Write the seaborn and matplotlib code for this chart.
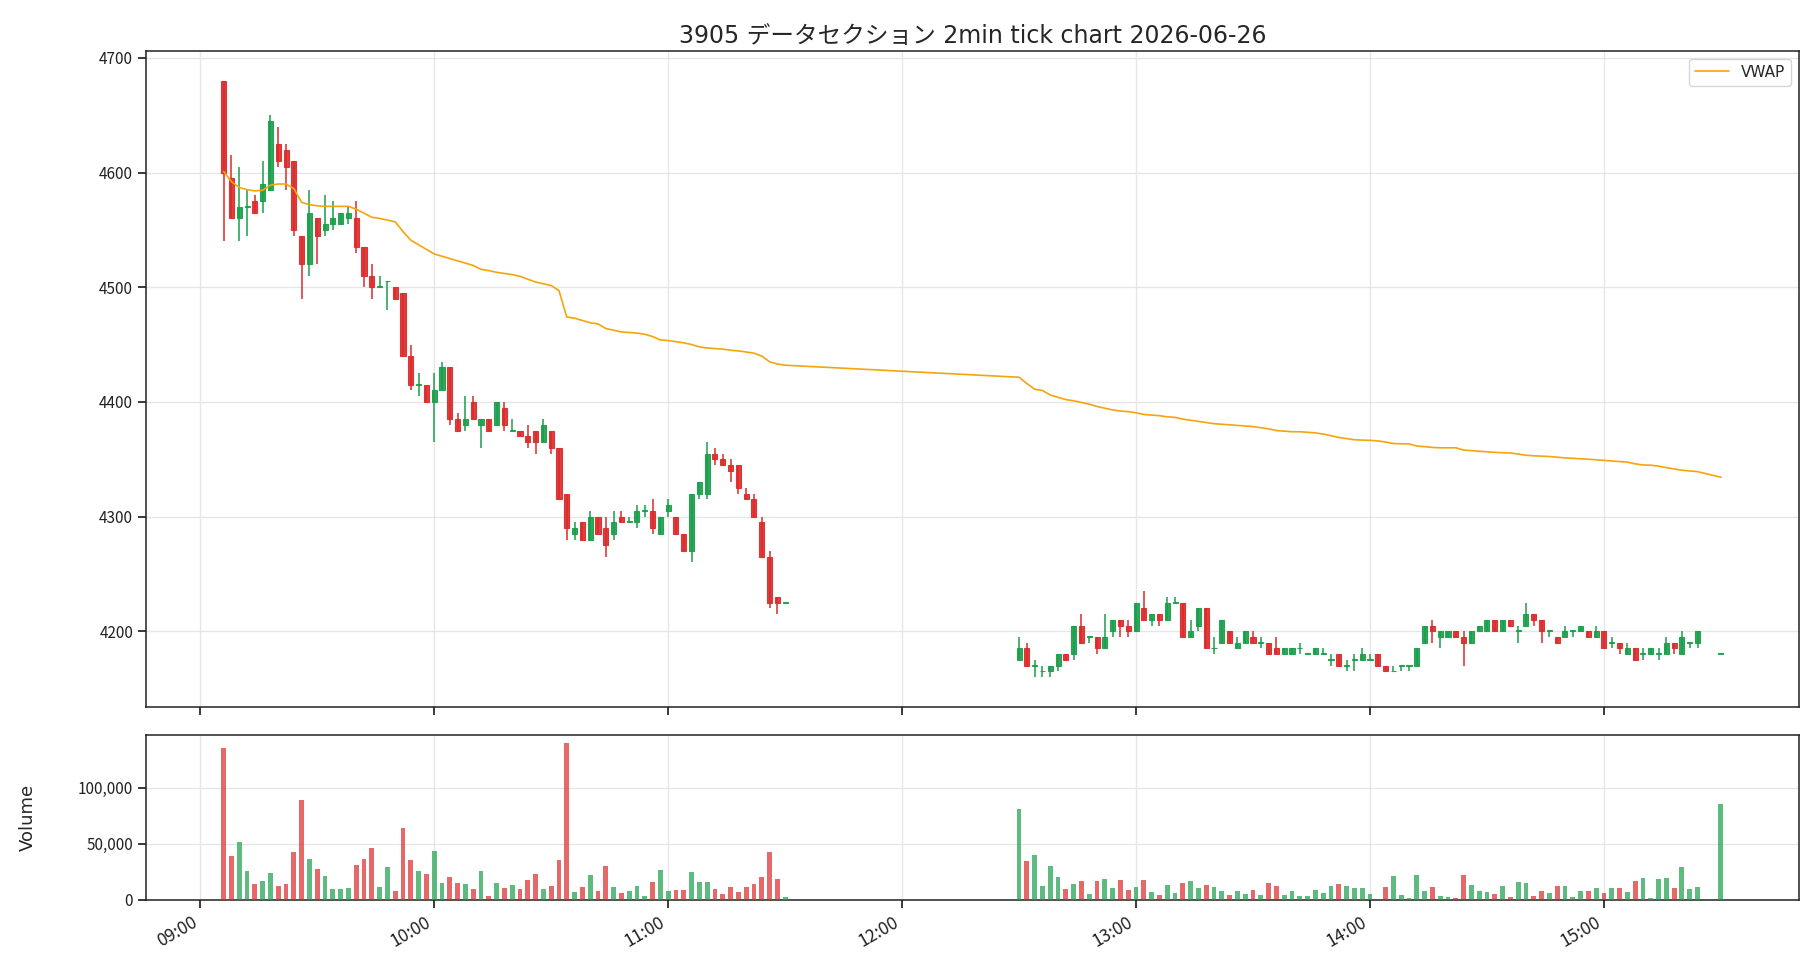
import numpy as np
import pandas as pd
import matplotlib
matplotlib.use("Agg")
import matplotlib.pyplot as plt
import matplotlib.dates as mdates
from matplotlib.ticker import FuncFormatter
import seaborn as sns

# ---------------- data ----------------
title = "3905 データセクション 2min tick chart 2026-06-26"

morning_start, morning_end = "2026-06-26 09:06", "2026-06-26 11:30"
afternoon_start, afternoon_end = "2026-06-26 12:30", "2026-06-26 15:24"
closing_time = "2026-06-26 15:30"

open_am = [4680, 4595, 4560, 4570, 4575, 4575, 4585, 4625, 4620, 4610, 4545, 4520, 4560, 4550, 4555, 4555, 4560, 4560,
           4535, 4510, 4500, 4505, 4500, 4495, 4440, 4415, 4415, 4400, 4410, 4430, 4385, 4380, 4400, 4380, 4385, 4380,
           4395, 4375, 4375, 4370, 4375, 4365, 4375, 4360, 4320, 4285, 4295, 4280, 4300, 4290, 4285, 4300, 4295, 4295,
           4305, 4305, 4285, 4305, 4300, 4285, 4270, 4320, 4320, 4355, 4350, 4345, 4345, 4320, 4315, 4295, 4265, 4230,
           4225]
high_am = [4680, 4615, 4605, 4585, 4580, 4610, 4650, 4640, 4625, 4610, 4545, 4585, 4560, 4580, 4575, 4565, 4570, 4575,
           4535, 4520, 4510, 4505, 4500, 4495, 4450, 4425, 4415, 4425, 4435, 4430, 4390, 4405, 4405, 4385, 4385, 4400,
           4400, 4385, 4375, 4380, 4375, 4385, 4375, 4360, 4320, 4295, 4295, 4305, 4300, 4300, 4305, 4305, 4300, 4310,
           4310, 4315, 4300, 4315, 4300, 4285, 4320, 4330, 4365, 4360, 4355, 4350, 4345, 4325, 4320, 4300, 4270, 4230,
           4225]
low_am = [4540, 4560, 4540, 4545, 4565, 4565, 4585, 4605, 4585, 4545, 4490, 4510, 4520, 4545, 4550, 4555, 4555, 4530,
          4500, 4490, 4500, 4480, 4490, 4440, 4410, 4405, 4400, 4365, 4410, 4380, 4375, 4375, 4385, 4360, 4375, 4380,
          4375, 4375, 4370, 4360, 4355, 4365, 4355, 4315, 4280, 4280, 4280, 4280, 4285, 4265, 4280, 4295, 4295, 4290,
          4300, 4285, 4285, 4300, 4285, 4270, 4260, 4315, 4315, 4345, 4345, 4330, 4320, 4315, 4300, 4265, 4220, 4215,
          4225]
close_am = [4600, 4560, 4570, 4570, 4565, 4590, 4645, 4610, 4605, 4550, 4520, 4565, 4545, 4555, 4560, 4565, 4565, 4535,
            4510, 4500, 4500, 4505, 4490, 4440, 4415, 4415, 4400, 4410, 4430, 4385, 4375, 4385, 4385, 4385, 4375, 4400,
            4380, 4375, 4370, 4365, 4365, 4380, 4360, 4315, 4290, 4290, 4280, 4300, 4285, 4275, 4295, 4295, 4295, 4305,
            4305, 4290, 4300, 4310, 4285, 4270, 4320, 4330, 4355, 4350, 4345, 4340, 4325, 4315, 4300, 4265, 4225, 4225,
            4225]
volume_am = [136000, 39000, 51500, 25400, 13800, 16500, 23700, 12000, 13800, 42500, 89200, 36200, 27200, 21000, 9300,
             9300, 10200, 30800, 36200, 46100, 11100, 29000, 7500, 64100, 35300, 25400, 22800, 43400, 14700, 20100,
             14700, 13800, 9300, 25400, 3000, 14700, 10200, 12900, 9300, 17400, 22800, 9300, 12000, 35300, 140400,
             6600, 11100, 21900, 7500, 29900, 11100, 5700, 7500, 12000, 3000, 15600, 26300, 7500, 8400, 8400, 24600,
             15600, 15600, 9300, 4800, 11100, 6600, 11100, 13800, 20100, 42500, 18300, 2100]
vwap_am = [4601, 4592, 4587, 4585, 4584, 4584.5, 4589, 4590, 4590, 4586, 4574, 4572, 4571, 4570.5, 4570.5, 4570.5,
           4570.5, 4568, 4564.5, 4561, 4560, 4558.5, 4557, 4548.5, 4541, 4537, 4533, 4529, 4527, 4525, 4523, 4521,
           4519, 4515.5, 4514.5, 4513, 4512, 4511, 4509.5, 4507, 4504.5, 4503, 4501.5, 4497, 4474, 4473, 4471, 4469,
           4468, 4464, 4462.5, 4461, 4460.5, 4460, 4459, 4457, 4454, 4453.5, 4452.5, 4451.5, 4450, 4448, 4447, 4446.5,
           4446, 4445, 4444.5, 4443.5, 4442.5, 4440, 4435, 4433, 4432]

open_pm = [4175, 4185, 4170, 4165, 4165, 4170, 4180, 4180, 4205, 4195, 4195, 4185, 4200, 4210, 4205, 4200, 4220, 4210,
           4215, 4210, 4225, 4225, 4195, 4205, 4220, 4185, 4190, 4200, 4185, 4190, 4195, 4190, 4190, 4185, 4180, 4180,
           4185, 4180, 4180, 4180, 4175, 4180, 4170, 4175, 4175, 4175, 4180, 4170, 4165, 4170, 4170, 4170, 4190, 4205,
           4195, 4195, 4200, 4195, 4190, 4200, 4200, 4210, 4200, 4210, 4200, 4205, 4215, 4210, 4200, 4195, 4195, 4200,
           4200, 4200, 4195, 4200, 4190, 4190, 4180, 4185, 4180, 4180, 4180, 4180, 4190, 4180, 4190, 4190, 4180]
high_pm = [4195, 4190, 4175, 4170, 4170, 4180, 4180, 4205, 4215, 4195, 4195, 4215, 4210, 4210, 4210, 4225, 4235, 4215,
           4215, 4230, 4230, 4225, 4210, 4220, 4220, 4195, 4210, 4200, 4195, 4200, 4200, 4195, 4190, 4195, 4185, 4185,
           4190, 4180, 4185, 4185, 4180, 4180, 4175, 4180, 4185, 4180, 4180, 4170, 4170, 4170, 4170, 4185, 4205, 4210,
           4200, 4200, 4200, 4200, 4200, 4205, 4210, 4210, 4210, 4210, 4205, 4225, 4215, 4210, 4200, 4195, 4205, 4200,
           4205, 4200, 4205, 4200, 4195, 4190, 4190, 4185, 4185, 4185, 4185, 4195, 4190, 4200, 4190, 4200, 4180]
low_pm = [4175, 4170, 4160, 4160, 4160, 4165, 4175, 4175, 4190, 4190, 4180, 4185, 4195, 4195, 4195, 4200, 4210, 4205,
          4205, 4210, 4225, 4195, 4195, 4200, 4185, 4180, 4190, 4190, 4185, 4190, 4190, 4185, 4180, 4180, 4180, 4180,
          4180, 4180, 4180, 4180, 4170, 4170, 4165, 4165, 4175, 4175, 4170, 4165, 4165, 4165, 4165, 4170, 4190, 4190,
          4185, 4195, 4195, 4170, 4190, 4200, 4200, 4200, 4200, 4205, 4190, 4205, 4205, 4190, 4195, 4190, 4195, 4195,
          4200, 4195, 4195, 4185, 4185, 4180, 4180, 4175, 4175, 4180, 4175, 4180, 4180, 4180, 4185, 4185, 4180]
close_pm = [4185, 4170, 4170, 4165, 4170, 4180, 4175, 4205, 4190, 4195, 4185, 4195, 4210, 4205, 4200, 4225, 4210, 4215,
            4210, 4225, 4225, 4195, 4200, 4220, 4185, 4185, 4210, 4190, 4190, 4200, 4190, 4190, 4180, 4180, 4185, 4185,
            4185, 4180, 4185, 4180, 4175, 4170, 4170, 4175, 4180, 4175, 4170, 4165, 4165, 4170, 4170, 4185, 4205, 4200,
            4200, 4200, 4195, 4190, 4200, 4205, 4210, 4200, 4210, 4205, 4200, 4215, 4210, 4200, 4200, 4190, 4200, 4200,
            4205, 4195, 4200, 4185, 4190, 4185, 4185, 4175, 4180, 4185, 4180, 4190, 4185, 4195, 4190, 4200, 4180]
volume_pm = [81100, 34400, 39800, 12000, 29900, 20100, 9300, 13800, 16500, 4800, 16500, 18300, 10200, 17400, 8400,
             11100, 17400, 6600, 3900, 12900, 5700, 14700, 16500, 10200, 12900, 11100, 7500, 3900, 7500, 4800, 8400,
             3900, 14700, 12000, 3900, 7500, 3000, 3000, 8400, 5700, 12000, 13800, 12000, 10200, 10200, 4800, 0,
             11100, 21000, 3900, 1200, 21900, 7500, 11100, 3000, 2100, 1200, 21900, 12900, 7500, 6600, 4800, 12000,
             2100, 15600, 14700, 3000, 7500, 5700, 12000, 12000, 2100, 7500, 7500, 10200, 5700, 10200, 10200, 6600,
             16500, 19200, 1200, 18300, 19200, 10200, 29000, 9300, 11100, 85600]
vwap_pm = [4421.5, 4416, 4411, 4410, 4406, 4404, 4402, 4401, 4399.5, 4398, 4396, 4394.5, 4393, 4392, 4391.5, 4390.5,
           4389, 4388.5, 4388, 4387, 4386.5, 4385, 4384, 4383, 4382, 4381, 4380.5, 4380, 4379.5, 4379, 4378.5, 4377.5,
           4376.5, 4375, 4374.5, 4374, 4374, 4373.5, 4373, 4372, 4370.5, 4369, 4368, 4367, 4366.7, 4366.5, 4366,
           4365, 4363.7, 4363.5, 4363.4, 4361.5, 4361, 4360.3, 4360, 4360, 4360, 4358, 4357.5, 4357, 4356.5, 4356,
           4355.7, 4355.5, 4354.5, 4353.5, 4353, 4352.7, 4352.4, 4351.8, 4351.2, 4350.8, 4350.4, 4350, 4349.5, 4349,
           4348.5, 4348, 4347.5, 4346, 4345, 4344.8, 4344, 4342.7, 4341.5, 4340.4, 4339.8, 4339.2, 4334.3]

up_color = "#1a9e4a"
down_color = "#dc2a2a"
vwap_color = "#f5a40c"

# ---------------- build frame ----------------
times = (list(pd.date_range(morning_start, morning_end, freq="2min"))
         + list(pd.date_range(afternoon_start, afternoon_end, freq="2min"))
         + [pd.Timestamp(closing_time)])
df = pd.DataFrame({
    "time": times,
    "open": open_am + open_pm,
    "high": high_am + high_pm,
    "low": low_am + low_pm,
    "close": close_am + close_pm,
    "volume": volume_am + volume_pm,
    "vwap": vwap_am + vwap_pm,
})
df["x"] = mdates.date2num(df["time"])
df["up"] = df["close"] >= df["open"]
colors = np.where(df["up"], up_color, down_color)

# ---------------- style ----------------
sns.set_theme(style="ticks")
plt.rcParams["font.family"] = ["Noto Sans CJK JP", "DejaVu Sans"]
plt.rcParams["axes.edgecolor"] = "#222222"
plt.rcParams["xtick.color"] = "#222222"
plt.rcParams["ytick.color"] = "#222222"
latin_first = ["DejaVu Sans", "Noto Sans CJK JP"]

fig = plt.figure(figsize=(18.2, 9.8), dpi=100)
ax = fig.add_axes([0.0804, 0.2786, 0.908, 0.6694])
axv = fig.add_axes([0.0804, 0.082, 0.908, 0.168], sharex=ax)

two_min = 2.0 / (24 * 60)
body_w = two_min * 0.65
vol_w = two_min * 0.62

# wicks
ax.vlines(df["x"], df["low"], df["high"], colors=colors, linewidth=1.1, zorder=2)
# bodies
body_bottom = np.minimum(df["open"], df["close"])
body_height = np.maximum(np.abs(df["close"] - df["open"]), 0.8)
ax.bar(df["x"], body_height, bottom=body_bottom, width=body_w, color=colors,
       edgecolor=colors, linewidth=0.8, alpha=0.9, zorder=3)

# VWAP via seaborn
sns.lineplot(data=df, x="x", y="vwap", ax=ax, color=vwap_color, linewidth=1.2,
             label="VWAP", zorder=4)
ax.legend(loc="upper right", frameon=True, handlelength=2.2,
          prop={"family": latin_first, "size": 11})
ax.set_xlabel("")
ax.set_ylabel("")

# volume
axv.bar(df["x"], df["volume"], width=vol_w, color=colors, alpha=0.7, linewidth=0, zorder=3)
axv.set_ylim(0, df["volume"].max() * 1.05)
axv.yaxis.set_major_formatter(FuncFormatter(lambda v, p: f"{int(v):,}"))
axv.set_yticks([0, 50000, 100000])
axv.set_ylabel("Volume", fontsize=13, family=latin_first)
axv.yaxis.set_label_coords(-0.066, 0.5)

# x axis
xmin = mdates.date2num(pd.Timestamp("2026-06-26 08:46:10"))
xmax = mdates.date2num(pd.Timestamp("2026-06-26 15:50:00"))
ax.set_xlim(xmin, xmax)
ax.xaxis.set_major_locator(mdates.HourLocator())
ax.xaxis.set_major_formatter(mdates.DateFormatter("%H:%M"))
plt.setp(ax.get_xticklabels(), visible=False)

for a in (ax, axv):
    a.grid(True, color="#e6e6e6", linewidth=1.0)
    a.set_axisbelow(True)
    a.tick_params(axis="y", labelsize=11)
    for s in a.spines.values():
        s.set_linewidth(1.1)
axv.tick_params(axis="x", labelsize=12.5)
for lbl in axv.get_xticklabels():
    lbl.set_rotation(30)
    lbl.set_ha("right")

ax.set_title(title, fontsize=17, pad=6, family=latin_first)

fig.savefig("out.png", dpi=100)
